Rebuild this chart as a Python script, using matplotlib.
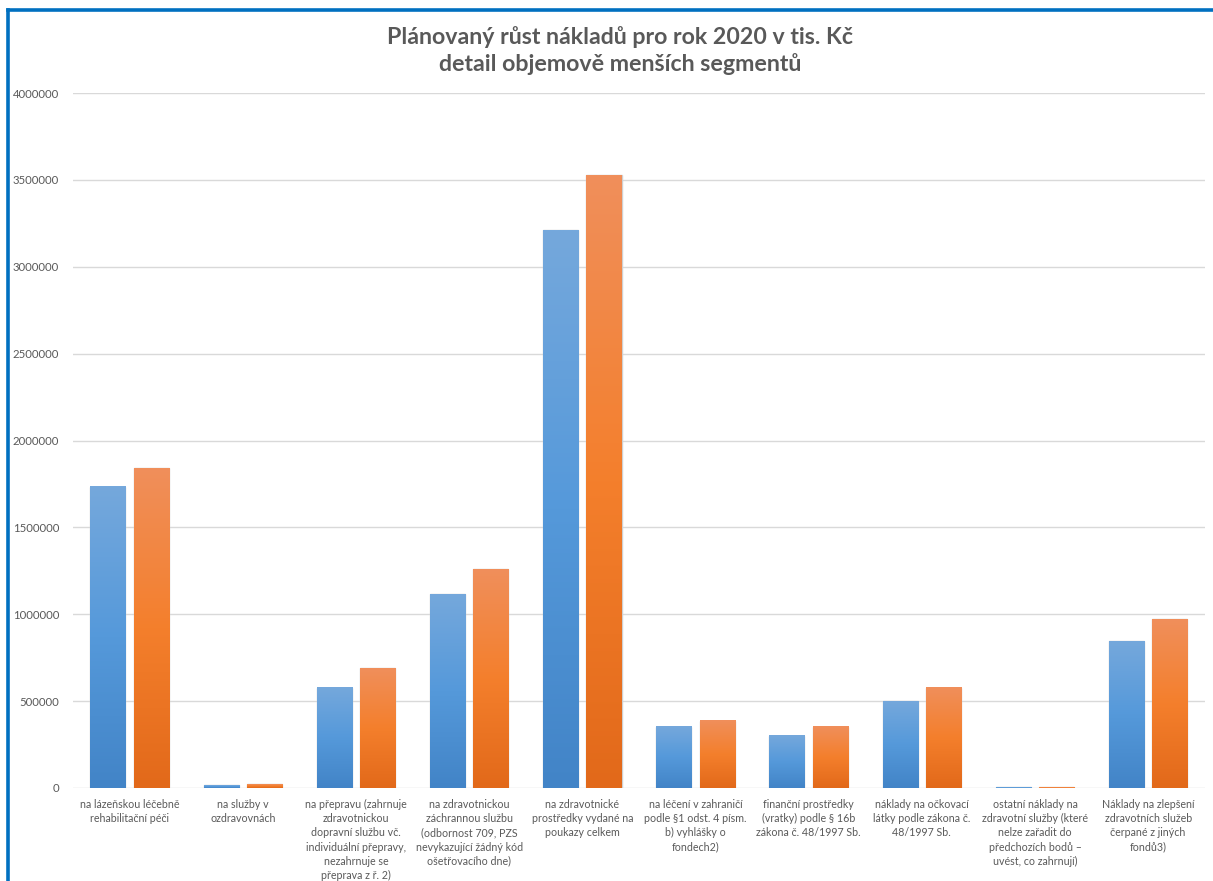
from matplotlib import pyplot as plt
from matplotlib.colors import LinearSegmentedColormap
from matplotlib.lines import Line2D
import numpy as np

# data (tis. Kč)
categories = [
    "na lázeňskou léčebně\nrehabilitační péči",
    "na služby v\nozdravovnách",
    "na přepravu (zahrnuje\nzdravotnickou\ndopravní službu vč.\nindividuální přepravy,\nnezahrnuje se\npřeprava z ř. 2)",
    "na zdravotnickou\nzáchrannou službu\n(odbornost 709, PZS\nnevykazující žádný kód\nošetřovacího dne)",
    "na zdravotnické\nprostředky vydané na\npoukazy celkem",
    "na léčení v zahraničí\npodle §1 odst. 4 písm.\nb) vyhlášky o\nfondech2)",
    "finanční prostředky\n(vratky) podle § 16b\nzákona č. 48/1997 Sb.",
    "náklady na očkovací\nlátky podle zákona č.\n48/1997 Sb.",
    "ostatní náklady na\nzdravotní služby (které\nnelze zařadit do\npředchozích bodů –\nuvést, co zahrnují)",
    "Náklady na zlepšení\nzdravotních služeb\nčerpané z jiných\nfondů3)",
]
series_a = [1733000, 15000, 577000, 1116000, 3211000, 353000, 301000, 499000, 4000, 846000]
series_b = [1840000, 20000, 689000, 1259000, 3528000, 387000, 353000, 577000, 5000, 971000]
yticks = [0, 500000, 1000000, 1500000, 2000000, 2500000, 3000000, 3500000, 4000000]

title = "Plánovaný růst nákladů pro rok 2020 v tis. Kč\ndetail objemově menších segmentů"

blue_cm = LinearSegmentedColormap.from_list("b", ["#4284C7", "#5599DA", "#75A8DC"])
orange_cm = LinearSegmentedColormap.from_list("o", ["#E2691A", "#F47F2C", "#F08F5B"])

plt.rcParams['font.family'] = ['Lato', 'DejaVu Sans']

fig = plt.figure(figsize=(12.13, 8.81), dpi=100)
ax = fig.add_axes([0.0602, 0.1056, 0.933, 0.7888])

x = np.arange(len(categories))
w = 0.31
off = 0.192
grad = np.linspace(0, 1, 256).reshape(-1, 1)

for vals, dx, cm in [(series_a, -off, blue_cm), (series_b, off, orange_cm)]:
    bars = ax.bar(x + dx, vals, w, color='none', edgecolor='#cfcfcf', linewidth=1.0, zorder=2)
    for b in bars:
        x0, h = b.get_x(), b.get_height()
        ax.imshow(grad, cmap=cm, origin='lower', aspect='auto',
                  extent=[x0, x0 + b.get_width(), 0, h], zorder=3)

ax.set_xlim(-0.5, len(categories) - 0.5)
ax.set_ylim(0, 4000000)
ax.set_yticks(yticks)
ax.set_yticklabels([str(t) for t in yticks])
ax.set_xticks(x)
ax.set_xticklabels(categories, fontsize=7.7, color='#595959', linespacing=1.35)
ax.tick_params(axis='x', length=0, pad=8)
ax.tick_params(axis='y', length=0, pad=10, labelsize=8.2, labelcolor='#595959')
ax.grid(axis='y', color='#d9d9d9', linewidth=1.0, zorder=0)
ax.set_axisbelow(True)
for s in ax.spines.values():
    s.set_visible(False)

fig.text(0.511, 0.970, title, ha='center', va='top', fontsize=16.7, fontweight='bold',
         color='#595959', linespacing=1.25)

# blue selection frame
fig.add_artist(Line2D([8 / 1213, 8 / 1213], [0, 1 - 10 / 881], color='#0070C0', lw=2.6,
                      solid_capstyle='projecting'))
fig.add_artist(Line2D([8 / 1213, 1], [1 - 10 / 881, 1 - 10 / 881], color='#0070C0', lw=2.6,
                      solid_capstyle='projecting'))

plt.savefig("out.png")
